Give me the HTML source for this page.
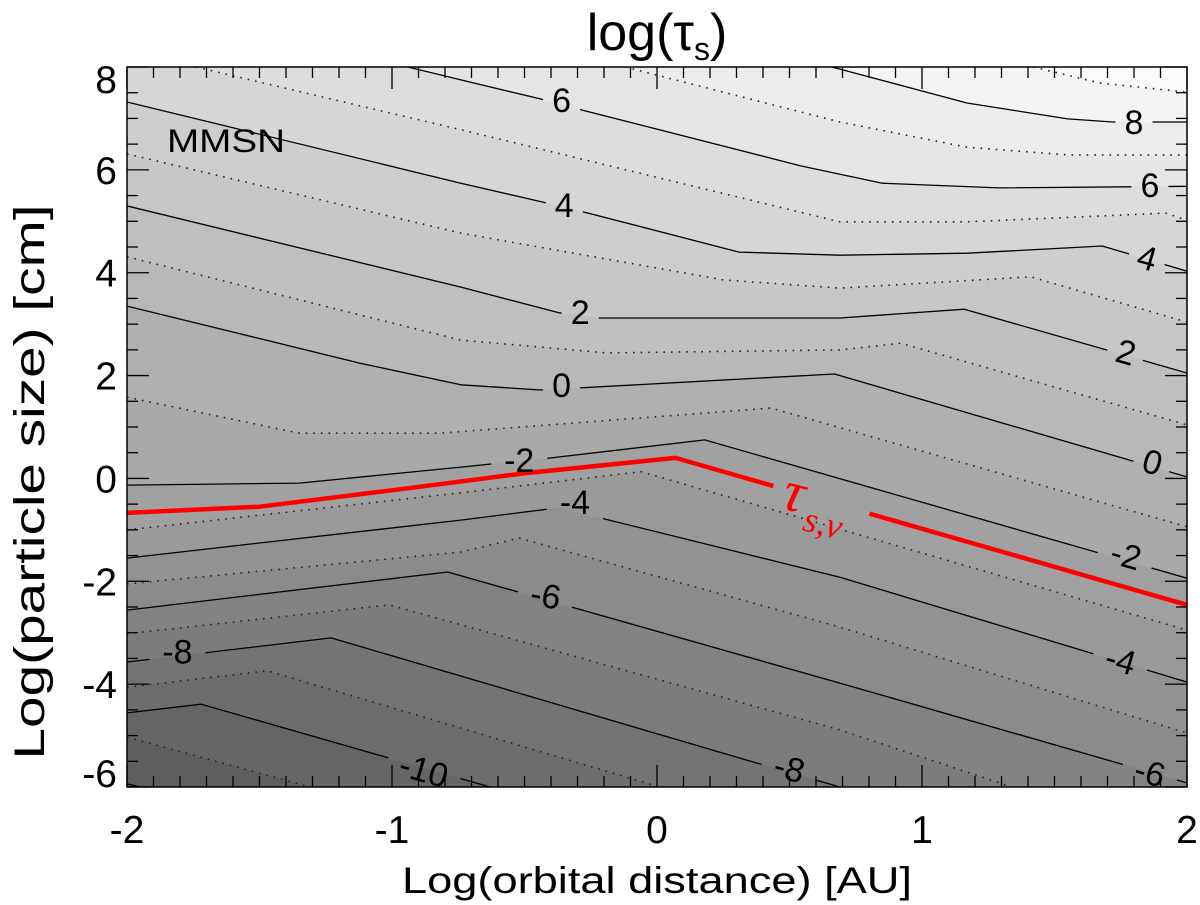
<!DOCTYPE html>
<html><head><meta charset="utf-8">
<style>
html,body{margin:0;padding:0;background:#fff;}
svg{display:block;font-family:"Liberation Sans",sans-serif;}
</style></head>
<body>
<svg id="chart" width="1200" height="905" viewBox="0 0 1200 905" xmlns="http://www.w3.org/2000/svg">
  <defs>
    <clipPath id="plotClip"><rect x="127" y="67" width="1060" height="720"/></clipPath>
    <mask id="labelMask" maskUnits="userSpaceOnUse" x="0" y="0" width="1200" height="905">
      <rect x="0" y="0" width="1200" height="905" fill="#fff"/>
      <g id="maskHoles"></g>
    </mask>
    <mask id="redMask" maskUnits="userSpaceOnUse" x="0" y="0" width="1200" height="905">
      <rect x="0" y="0" width="1200" height="905" fill="#fff"/>
      <g id="redHoles"></g>
    </mask>
  </defs>
  <text x="657" y="50" font-size="52" text-anchor="middle">log(τ<tspan font-size="32" dy="10">s</tspan><tspan dy="-10">)</tspan></text>
  <g id="plot" clip-path="url(#plotClip)">
    <g id="fills"></g>
    <g id="lines" mask="url(#labelMask)"></g>
    <g id="redg" mask="url(#redMask)"></g>
    <g id="clabels"></g>
  </g>
  <text x="167" y="152" font-size="32" textLength="118" lengthAdjust="spacingAndGlyphs">MMSN</text>
  <g id="taulabel" fill="#ff0000" font-family="'Liberation Serif',serif" font-style="italic"></g>
  <g id="ticks"></g>
  <rect x="127" y="67" width="1060" height="720" fill="none" stroke="#000" stroke-width="1.5"/>
  <g id="ticklabels" font-size="39"></g>
  <text x="657" y="893" font-size="37" text-anchor="middle" textLength="510" lengthAdjust="spacingAndGlyphs">Log(orbital distance) [AU]</text>
  <text transform="translate(44,482) rotate(-90)" font-size="43" text-anchor="middle" textLength="555" lengthAdjust="spacingAndGlyphs">Log(particle size) [cm]</text>
</svg>
<script>
// ---- data ----
const contourLevels = [9,8,7,6,5,4,3,2,1,0,-1,-2,-3,-4,-5,-6,-7,-8,-9,-10,-11,-12];
const contour9  = [[1.42,8],[1.67,7.69],[2,7.51]];
const contour8  = [[0.66,8],[1.17,7.30],[1.55,6.99],[1.72,6.93],[2,6.93]];
const contour7  = [[-0.12,8],[0.69,6.93],[1.17,6.44],[1.55,6.29],[2,6.29]];
const contour6  = [[-0.94,8],[-0.74,7.75],[-0.44,7.38],[-0.28,7.16],[0.54,6.08],[0.85,5.74],[1.29,5.65],[2,5.68]];
const contour5  = [[-1.74,8],[-0.74,6.78],[0.69,4.99],[1.17,4.99],[1.92,5.16],[2,5.02]];
const contour4  = [[-2,7.32],[-0.74,5.74],[-0.42,5.36],[-0.26,5.16],[0.31,4.40],[0.69,4.34],[1.17,4.38],[1.68,4.52],[2,4.03]];
const contour3  = [[-2,6.31],[-0.74,4.77],[0.25,3.86],[0.69,3.70],[1.41,3.92],[2,3.04]];
const contour2  = [[-2,5.30],[-0.74,3.72],[-0.37,3.22],[-0.22,3.12],[0.69,3.12],[1.16,3.29],[2,2.05]];
const contour1  = [[-2,4.31],[-0.74,2.69],[-0.19,2.44],[0.69,2.50],[0.92,2.63],[2,1.04]];
const contour0  = [[-2,3.35],[-1.12,2.24],[-0.74,1.82],[-0.44,1.72],[0.67,2.03],[2,0.03]];
const contourM1 = [[-2,1.58],[-1.35,0.88],[-0.82,0.88],[0.43,1.37],[2,-0.94]];
const contourM2 = [[-2,-0.13],[-1.35,-0.09],[-0.74,0.22],[-0.40,0.40],[0.18,0.75],[2,-1.94]];
const contourM3 = [[-2,-1.0],[-0.74,-0.28],[-0.06,0.13],[0.66,-0.94],[2,-2.95]];
const contourM4 = [[-2,-1.55],[-0.74,-0.81],[-0.37,-0.57],[0.69,-1.92],[2,-3.96]];
const contourM5 = [[-2,-2.05],[-0.74,-1.43],[-0.52,-1.16],[0.69,-2.89],[2,-4.95]];
const contourM6 = [[-2,-2.56],[-0.79,-1.82],[0.69,-3.98],[2,-5.92]];
const contourM7 = [[-2,-3.02],[-1.01,-2.46],[0.69,-4.89],[1.34,-6]];
const contourM8 = [[-2,-3.57],[-1.23,-3.10],[0.36,-5.51],[0.69,-6]];
const contourM9 = [[-2,-4.06],[-1.47,-3.74],[0.01,-6]];
const contourM10 = [[-2,-4.56],[-1.72,-4.39],[-0.63,-6]];
const contourM11 = [[-2,-5.03],[-1.31,-6]];
const contourM12 = [[-2,-5.94],[-1.95,-6]];
const contourPaths = [contour9,contour8,contour7,contour6,contour5,contour4,contour3,contour2,contour1,contour0,
  contourM1,contourM2,contourM3,contourM4,contourM5,contourM6,contourM7,contourM8,contourM9,contourM10,contourM11,contourM12];
const tauNuLine = [[-2,-0.67],[-1.5,-0.55],[-1.0,-0.23],[-0.5,0.10],[0.07,0.40],[2,-2.46]];
const labelText  = ["6","4","2","0","-2","-4","-6","-8","-10","-8","8","6","4","2","0","-2","-4","-6"];
const labelX     = [-0.36,-0.35,-0.29,-0.36,-0.52,-0.31,-0.42,-1.81,-0.88,0.50,1.80,1.86,1.85,1.77,1.87,1.77,1.75,1.86];
const labelY     = [7.36,5.32,3.24,1.82,0.36,-0.46,-2.27,-3.37,-5.67,-5.63,6.93,5.71,4.29,2.46,0.32,-1.49,-3.53,-5.71];
const labelAngle = [0,0,0,0,0,0,10,0,16,16,0,0,16,16,16,16,16,16];
const yTickLabels = [8,6,4,2,0,-2,-4,-6];
const xTickLabels = [-2,-1,0,1,2];

// ---- axes ----
const X0=127, X1=1187, Y0=67, Y1=787;
const xMin=-2, xMax=2, yMin=-6, yMax=8;
const sx = v => X0 + (v - xMin) / (xMax - xMin) * (X1 - X0);
const sy = v => Y1 - (v - yMin) / (yMax - yMin) * (Y1 - Y0);
const NS = "http://www.w3.org/2000/svg";
function mk(tag, attrs, parent){
  const e = document.createElementNS(NS, tag);
  for (const k in attrs) e.setAttribute(k, attrs[k]);
  parent.appendChild(e);
  return e;
}
const gray = v => { const g = Math.max(0, Math.min(252, Math.round(90 + (v + 12) * 7.5))); return `rgb(${g},${g},${g})`; };
const ptsStr = pts => pts.map(p => sx(p[0]).toFixed(1) + "," + sy(p[1]).toFixed(1)).join(" ");

// fills
const fills = document.getElementById("fills");
const bg = mk("rect", {x:X0, y:Y0, width:X1-X0, height:Y1-Y0, fill:gray(contourLevels[0] + 0.5)}, fills);


contourPaths.forEach((pts, i) => {
  const L = contourLevels[i];
  const poly = pts.slice();
  const s = pts[0], e = pts[pts.length - 1];
  if (e[0] >= xMax) poly.push([xMax, yMin]);
  poly.push([xMin, yMin]);
  if (s[1] >= yMax && s[0] > xMin) poly.push([xMin, yMax]);
  const p = mk("polygon", {points: ptsStr(poly), fill: gray(L - 0.5)}, fills);
  
  
});

// lines
const lines = document.getElementById("lines");
contourPaths.forEach((pts, i) => {
  const L = contourLevels[i];
  const solid = (L % 2 === 0);
  const attrs = {points: ptsStr(pts), fill:"none", stroke: solid ? "#000" : "#222", "stroke-width": solid ? 1.3 : 1.6, "stroke-linejoin":"round"};
  if (!solid) attrs["stroke-dasharray"] = "1.6 6";
  const pl = mk("polyline", attrs, lines);
  
  
});

// red line
const redg = document.getElementById("redg");
const red = mk("polyline", {points: ptsStr(tauNuLine), fill:"none", stroke:"#ff0000", "stroke-width":4.5, "stroke-linejoin":"round"}, redg);


mk("rect", {x:-50, y:-30, width:100, height:60, fill:"#000", transform:"translate(822,498) rotate(16)"}, document.getElementById("redHoles"));

// tau label
const tl = document.getElementById("taulabel");
const tt = mk("text", {x:0, y:0, "font-size":58, transform:"translate(780,508) rotate(14)"}, tl);
tt.textContent = "τ";


const ts = mk("text", {x:26, y:16, "font-size":36, transform:"translate(780,508) rotate(14)"}, tl);
ts.textContent = "s,ν";



// contour labels
const cl = document.getElementById("clabels");
const holes = document.getElementById("maskHoles");
labelText.forEach((t, i) => {
  const x = sx(labelX[i]), y = sy(labelY[i]), a = labelAngle[i];
  const w = 19 * t.length + 18;
  mk("rect", {x:-w/2, y:-18, width:w, height:36, fill:"#000", transform:`translate(${x},${y}) rotate(${a})`}, holes);
  const tx = mk("text", {x:0, y:12, "font-size":34, "text-anchor":"middle", transform:`translate(${x},${y}) rotate(${a})`}, cl);
  tx.textContent = t;
  
  
});

// ticks
const tk = document.getElementById("ticks");
for (let k = 0; k <= 28; k++) {
  const v = yMin + k * 0.5;
  const major = Math.abs(v % 2) < 1e-9;
  const len = major ? 22 : 11;
  const y = sy(v);
  const a = mk("line", {x1:X0, x2:X0+len, y1:y, y2:y, stroke:"#000", "stroke-width":1.3}, tk);
  
  
  const b = mk("line", {x1:X1, x2:X1-len, y1:y, y2:y, stroke:"#000", "stroke-width":1.3}, tk);
  
  
}
for (let k = 0; k <= 40; k++) {
  const v = xMin + k * 0.1;
  const major = (k % 10 === 0);
  const len = major ? 22 : 11;
  const x = sx(v);
  const a = mk("line", {x1:x, x2:x, y1:Y1, y2:Y1-len, stroke:"#000", "stroke-width":1.3}, tk);
  
  
  const b = mk("line", {x1:x, x2:x, y1:Y0, y2:Y0+len, stroke:"#000", "stroke-width":1.3}, tk);
  
  
}

// tick labels
const tlg = document.getElementById("ticklabels");
yTickLabels.forEach(v => {
  let y = sy(v) + 14;
  if (v === yMax) y += 12;
  if (v === yMin) y -= 14;
  const t = mk("text", {x:117, y:y, "text-anchor":"end"}, tlg);
  t.textContent = String(v);
  
  
});
xTickLabels.forEach(v => {
  const t = mk("text", {x:sx(v), y:843, "text-anchor":"middle"}, tlg);
  t.textContent = String(v);
  
  
});
</script>
</body></html>
